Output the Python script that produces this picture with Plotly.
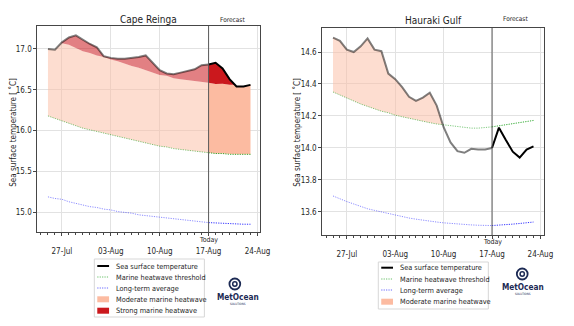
import numpy as np
import pandas as pd
import plotly.graph_objects as go

FONT = "DejaVu Sans Condensed, Liberation Sans Narrow, DejaVu Sans, sans-serif"
W, H = 574, 326

# ---------------- data ----------------
start_date = "2023-07-25"
n_days = 30
today_idx = 23  # 17-Aug

tick_dates = ["2023-07-27", "2023-08-03", "2023-08-10", "2023-08-17", "2023-08-24"]
tick_text = ["27-Jul", "03-Aug", "10-Aug", "17-Aug", "24-Aug"]

cr_sst = [17.00, 16.99, 17.08, 17.14, 17.165, 17.11, 17.06, 17.02, 16.91, 16.89,
          16.88, 16.88, 16.89, 16.90, 16.92, 16.83, 16.74, 16.70, 16.69, 16.71,
          16.73, 16.75, 16.80, 16.81, 16.83, 16.76, 16.63, 16.54, 16.54, 16.56]
cr_thr = [16.18, 16.15, 16.115, 16.09, 16.06, 16.03, 16.01, 15.99, 15.97, 15.95,
          15.93, 15.91, 15.89, 15.87, 15.85, 15.83, 15.81, 15.80, 15.78, 15.77,
          15.76, 15.75, 15.74, 15.73, 15.72, 15.72, 15.71, 15.71, 15.71, 15.71]
cr_clim = [15.19, 15.17, 15.16, 15.13, 15.11, 15.09, 15.07, 15.06, 15.04, 15.03,
           15.01, 15.00, 14.99, 14.97, 14.96, 14.95, 14.94, 14.93, 14.92, 14.91,
           14.90, 14.89, 14.88, 14.875, 14.87, 14.865, 14.86, 14.86, 14.855, 14.855]
cr_yticks = [15.0, 15.5, 16.0, 16.5, 17.0]

hg_sst = [14.69, 14.67, 14.615, 14.60, 14.635, 14.685, 14.615, 14.605, 14.465, 14.43,
          14.38, 14.32, 14.295, 14.315, 14.345, 14.265, 14.13, 14.035, 13.98, 13.97,
          13.995, 13.99, 13.99, 14.00, 14.127, 14.05, 13.977, 13.94, 13.99, 14.01]
hg_thr = [14.35, 14.33, 14.31, 14.29, 14.275, 14.26, 14.245, 14.23, 14.22, 14.205,
          14.195, 14.185, 14.175, 14.165, 14.158, 14.15, 14.144, 14.138, 14.132, 14.127,
          14.124, 14.124, 14.127, 14.132, 14.138, 14.145, 14.152, 14.159, 14.165, 14.172]
hg_clim = [13.70, 13.68, 13.665, 13.65, 13.635, 13.62, 13.61, 13.60, 13.59, 13.58,
           13.57, 13.562, 13.555, 13.548, 13.542, 13.537, 13.532, 13.528, 13.525, 13.522,
           13.519, 13.517, 13.516, 13.515, 13.517, 13.52, 13.524, 13.528, 13.532, 13.537]
hg_yticks = [13.6, 13.8, 14.0, 14.2, 14.4, 14.6]

# ---------------- styles ----------------
C_MOD = (252, 187, 161)
C_STR = (203, 24, 29)
DOT = "1.2px,1.2px"
def rgba(c, a):
    return "rgba(%d,%d,%d,%s)" % (c[0], c[1], c[2], a)

dates = pd.date_range(start_date, periods=n_days, freq="D")
t0 = pd.Timestamp(start_date)

def to_date(ts):
    return [t0 + pd.Timedelta(days=float(v)) for v in ts]

def refine(sst, thr, thr2):
    idx = np.arange(len(sst), dtype=float)
    ts = set(idx.tolist())
    for a, b in ((sst, thr), (sst, thr2)):
        d = np.asarray(a) - np.asarray(b)
        for i in range(len(d) - 1):
            if d[i] * d[i + 1] < 0:
                ts.add(i + d[i] / (d[i] - d[i + 1]))
    ts = np.array(sorted(ts))
    return ts, [np.interp(ts, idx, s) for s in (sst, thr, thr2)]

def add_panel(fig, sst, thr, clim, xa, ya):
    sst, thr, clim = map(np.asarray, (sst, thr, clim))
    thr2 = 2 * thr - clim
    ts, (s_r, t_r, t2_r) = refine(sst, thr, thr2)
    mod_hi = np.maximum(np.minimum(s_r, t2_r), t_r)
    str_hi = np.maximum(s_r, t2_r)
    for seg, a_mod, a_str in (((ts <= today_idx), 0.5, 0.55), ((ts >= today_idx), 1.0, 1.0)):
        x = to_date(ts[seg])
        for lo, hi, col, a in ((t_r, mod_hi, C_MOD, a_mod), (t2_r, str_hi, C_STR, a_str)):
            fig.add_trace(go.Scatter(x=x, y=lo[seg], mode="lines", line=dict(width=0),
                                     showlegend=False, hoverinfo="skip", xaxis=xa, yaxis=ya))
            fig.add_trace(go.Scatter(x=x, y=hi[seg], mode="lines", line=dict(width=0),
                                     fill="tonexty", fillcolor=rgba(col, a),
                                     showlegend=False, hoverinfo="skip", xaxis=xa, yaxis=ya))
    h = slice(0, today_idx + 1)
    f = slice(today_idx, n_days)
    for s, col_h, col_f, dash, w in ((clim, "rgba(0,0,255,0.45)", "rgba(0,0,255,0.8)", DOT, 1),
                                     (thr, "rgba(0,150,0,0.5)", "rgba(0,150,0,0.8)", DOT, 1),
                                     (sst, "rgba(0,0,0,0.5)", "rgb(0,0,0)", "solid", 2)):
        fig.add_trace(go.Scatter(x=dates[h], y=s[h], mode="lines",
                                 line=dict(color=col_h, width=w, dash=dash),
                                 showlegend=False, xaxis=xa, yaxis=ya))
        fig.add_trace(go.Scatter(x=dates[f], y=s[f], mode="lines",
                                 line=dict(color=col_f, width=w, dash=dash),
                                 showlegend=False, xaxis=xa, yaxis=ya))

fig = go.Figure()
add_panel(fig, cr_sst, cr_thr, cr_clim, "x", "y")
add_panel(fig, hg_sst, hg_thr, hg_clim, "x2", "y2")

AXC = "rgb(70,70,70)"
TICKF = dict(size=8, color="rgb(40,40,40)", family=FONT)

def xaxis(domain, rng, anchor):
    return dict(domain=domain, range=rng, anchor=anchor, type="date",
                tickvals=tick_dates, ticktext=tick_text, tickfont=TICKF,
                ticks="outside", ticklen=3, tickcolor=AXC, ticklabelstandoff=8,
                showgrid=True, gridcolor="rgb(226,226,226)", gridwidth=1,
                showline=True, mirror=True, linecolor=AXC, linewidth=1, zeroline=False,
                minor=dict(ticks="outside", ticklen=2, dtick=86400000, tick0=start_date,
                           tickcolor=AXC, showgrid=False))

def yaxis(domain, rng, anchor, tv):
    return dict(domain=domain, range=rng, anchor=anchor, tickvals=tv,
                ticktext=["%.1f" % v for v in tv], tickfont=TICKF,
                ticks="outside", ticklen=3, tickcolor=AXC,
                showgrid=True, gridcolor="rgb(226,226,226)", gridwidth=1,
                showline=True, mirror=True, linecolor=AXC, linewidth=1, zeroline=False)

def px(x):
    return x / W
def py(y):
    return 1 - y / H

fig.update_layout(
    width=W, height=H, margin=dict(l=0, r=0, t=0, b=0),
    paper_bgcolor="white", plot_bgcolor="white", showlegend=False,
    font=dict(family=FONT, size=8, color="rgb(30,30,30)"),
    xaxis=xaxis([px(38), px(265)], ["2023-07-23 11:30", "2023-08-24 10:00"], "y"),
    yaxis=yaxis([py(232), py(26)], [14.76, 17.28], "x", cr_yticks),
    xaxis2=xaxis([px(328), px(554)], ["2023-07-23 10:48", "2023-08-24 13:40"], "y2"),
    yaxis2=yaxis([py(235), py(28)], [13.456, 14.75], "x2", hg_yticks),
)

shapes = []
ann = []
# today lines
for xa, ya in (("x", "y"), ("x2", "y2")):
    shapes.append(dict(type="line", xref=xa, yref=ya + " domain", x0=dates[today_idx],
                       x1=dates[today_idx], y0=0, y1=1, line=dict(color="rgb(90,90,90)", width=1)))
    ann.append(dict(text="Today", xref=xa, yref="paper", x=dates[today_idx],
                    y=py(240 if xa == "x" else 242), showarrow=False,
                    xanchor="center", yanchor="middle",
                    font=dict(size=7, family=FONT, color="rgb(30,30,30)")))

def text(t, x, y, size, xanchor="center", **kw):
    d = dict(text=t, xref="paper", yref="paper", x=px(x), y=py(y), showarrow=False,
             xanchor=xanchor, yanchor="middle",
             font=dict(size=size, family=FONT, color=kw.pop("color", "rgb(30,30,30)")))
    d.update(kw)
    ann.append(d)

text("Cape Reinga", 151.5, 19.5, 10)
text("Hauraki Gulf", 441, 21, 10)
text("Forecast", 237, 20.5, 6.5)
text("Forecast", 525, 18.7, 6.5)
text("Sea surface temperature [ ˚C]", 13, 132, 8, textangle=-90)
text("Sea surface temperature [ ˚C]", 302, 132, 8, textangle=-90)

# legends (manual, compact like the reference)
leg_items = [("Sea surface temperature", "line", "rgb(0,0,0)", "solid", 2),
             ("Marine heatwave threshold", "line", "rgba(0,150,0,0.6)", DOT, 1),
             ("Long-term average", "line", "rgba(0,0,255,0.6)", DOT, 1),
             ("Moderate marine heatwave", "rect", rgba(C_MOD, 1), None, None),
             ("Strong marine heatwave", "rect", rgba(C_STR, 1), None, None)]

def legend(x0, x1, y0, y1, ys, lx0, lx1, tx, items):
    shapes.append(dict(type="rect", xref="paper", yref="paper", x0=px(x0), x1=px(x1),
                       y0=py(y0), y1=py(y1), line=dict(color="rgb(215,215,215)", width=1),
                       fillcolor="white"))
    for (label, kind, col, dash, w), yy in zip(items, ys):
        if kind == "line":
            shapes.append(dict(type="line", xref="paper", yref="paper", x0=px(lx0), x1=px(lx1),
                               y0=py(yy), y1=py(yy), line=dict(color=col, width=w, dash=dash)))
        else:
            shapes.append(dict(type="rect", xref="paper", yref="paper", x0=px(lx0), x1=px(lx1),
                               y0=py(yy - 3), y1=py(yy + 3), line=dict(width=0), fillcolor=col))
        text(label, tx, yy, 7.3, xanchor="left")

legend(96, 208, 259, 317, [266, 277, 288, 299.3, 310.7], 99, 111, 116, leg_items)
legend(385, 497, 262, 309, [267.7, 279, 290, 301.7], 388, 400, 405, leg_items[:4])

# MetOcean logos
NAVY = "rgb(28,42,84)"
for cx, cy, tx in ((239, 284, 242.5), (531.5, 274, 532)):
    shapes.append(dict(type="circle", xref="paper", yref="paper", x0=px(cx - 5.5), x1=px(cx + 5.5),
                       y0=py(cy + 5.5), y1=py(cy - 5.5), line=dict(color=NAVY, width=1.8)))
    shapes.append(dict(type="circle", xref="paper", yref="paper", x0=px(cx - 2.2), x1=px(cx + 2.2),
                       y0=py(cy + 2.2), y1=py(cy - 2.2), line=dict(color=NAVY, width=1.5)))
    text("<b>MetOcean</b>", tx, cy + 12.5, 8.2, color=NAVY)
    text("SOLUTIONS", tx, cy + 19.5, 3, color=NAVY)

fig.update_layout(shapes=shapes, annotations=ann)
fig.write_html("out.html")
